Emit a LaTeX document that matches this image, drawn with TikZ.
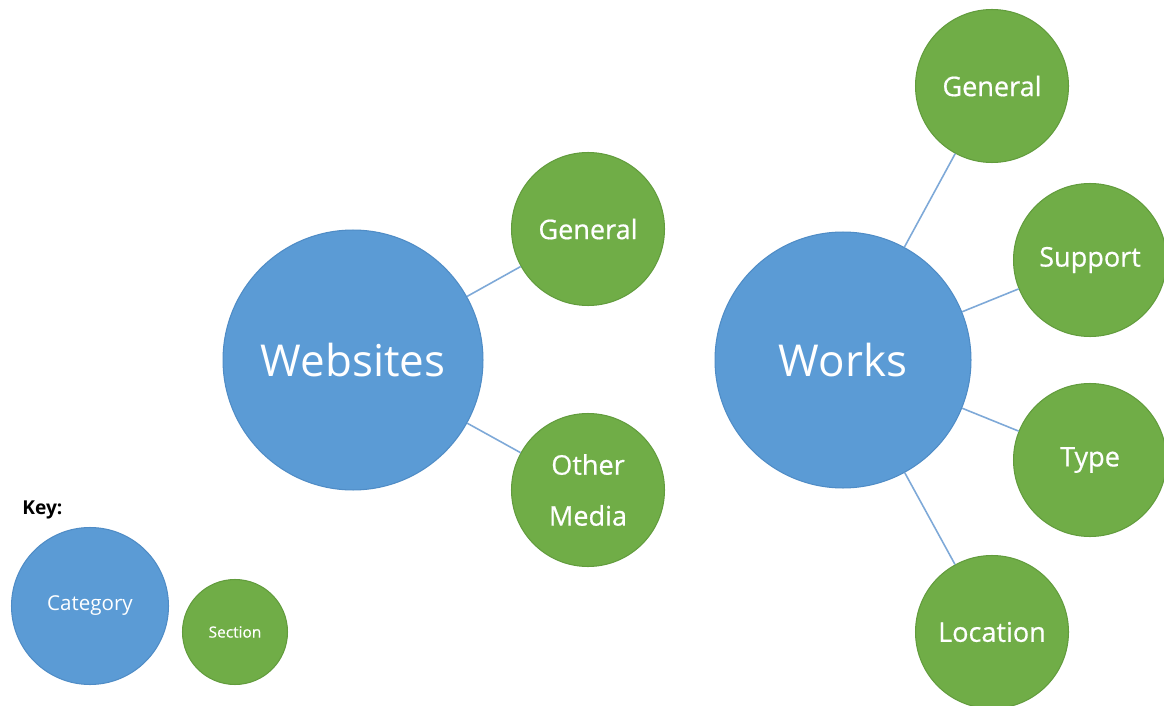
\documentclass[tikz,border=0pt]{standalone}
\usepackage{fontspec}
\setmainfont{Open Sans}
\newfontfamily\secfont{Open Sans}[FakeBold=0.6]
\definecolor{catblue}{HTML}{5B9BD5}
\definecolor{catedge}{HTML}{4F8CC6}
\definecolor{secgreen}{HTML}{70AD47}
\definecolor{secedge}{HTML}{629C3D}
\definecolor{linkblue}{HTML}{7EA9D8}
\tikzset{
  category/.style={circle, fill=catblue, draw=catedge, line width=0.6pt,
    text=white, inner sep=0pt},
  section/.style={circle, fill=secgreen, draw=secedge, line width=0.6pt,
    text=white, inner sep=0pt, minimum size=3.06cm,
    font=\secfont\fontsize{15.4}{29}\selectfont, align=center},
  link/.style={draw=linkblue, line width=0.9pt}
}
\begin{document}
\begin{tikzpicture}[x=0.02cm, y=-0.02cm]
      \useasboundingbox[fill=white] (0,0) rectangle (1164,706);
      % categories
      \draw
        (353,360) node[category, minimum size=5.2cm,
          font=\fontsize{25}{30}\selectfont] (websites){Websites}
        (843,360) node[category, minimum size=5.12cm,
          font=\fontsize{25}{30}\selectfont] (works){Works};
      % sections
      \draw
        (588,229) node[section] (webgen){General}
        (588,490) node[section] (media){Other\\Media}
        (992,86) node[section] (workgen){General}
        (1090,260) node[section] (support){Support}
        (1090,460) node[section] (type){Type}
        (992,632) node[section] (location){Location};
      \begin{scope}[link]
        \draw (websites) to (webgen);
        \draw (websites) to (media);
        \draw (works) to (workgen);
        \draw (works) to (support);
        \draw (works) to (type);
        \draw (works) to (location);
      \end{scope}
      % key
      \draw
        (22,510) node[anchor=west, inner sep=0pt,
          font=\fontsize{10.9}{13}\selectfont\bfseries] (key){Key:}
        (90,606) node[category, minimum size=3.14cm,
          font=\fontsize{11.7}{14}\selectfont] (keycat){Category}
        (235,632) node[section, minimum size=2.1cm,
          font=\secfont\fontsize{8.8}{11}\selectfont] (keysec){Section};
    \end{tikzpicture}
\end{document}
